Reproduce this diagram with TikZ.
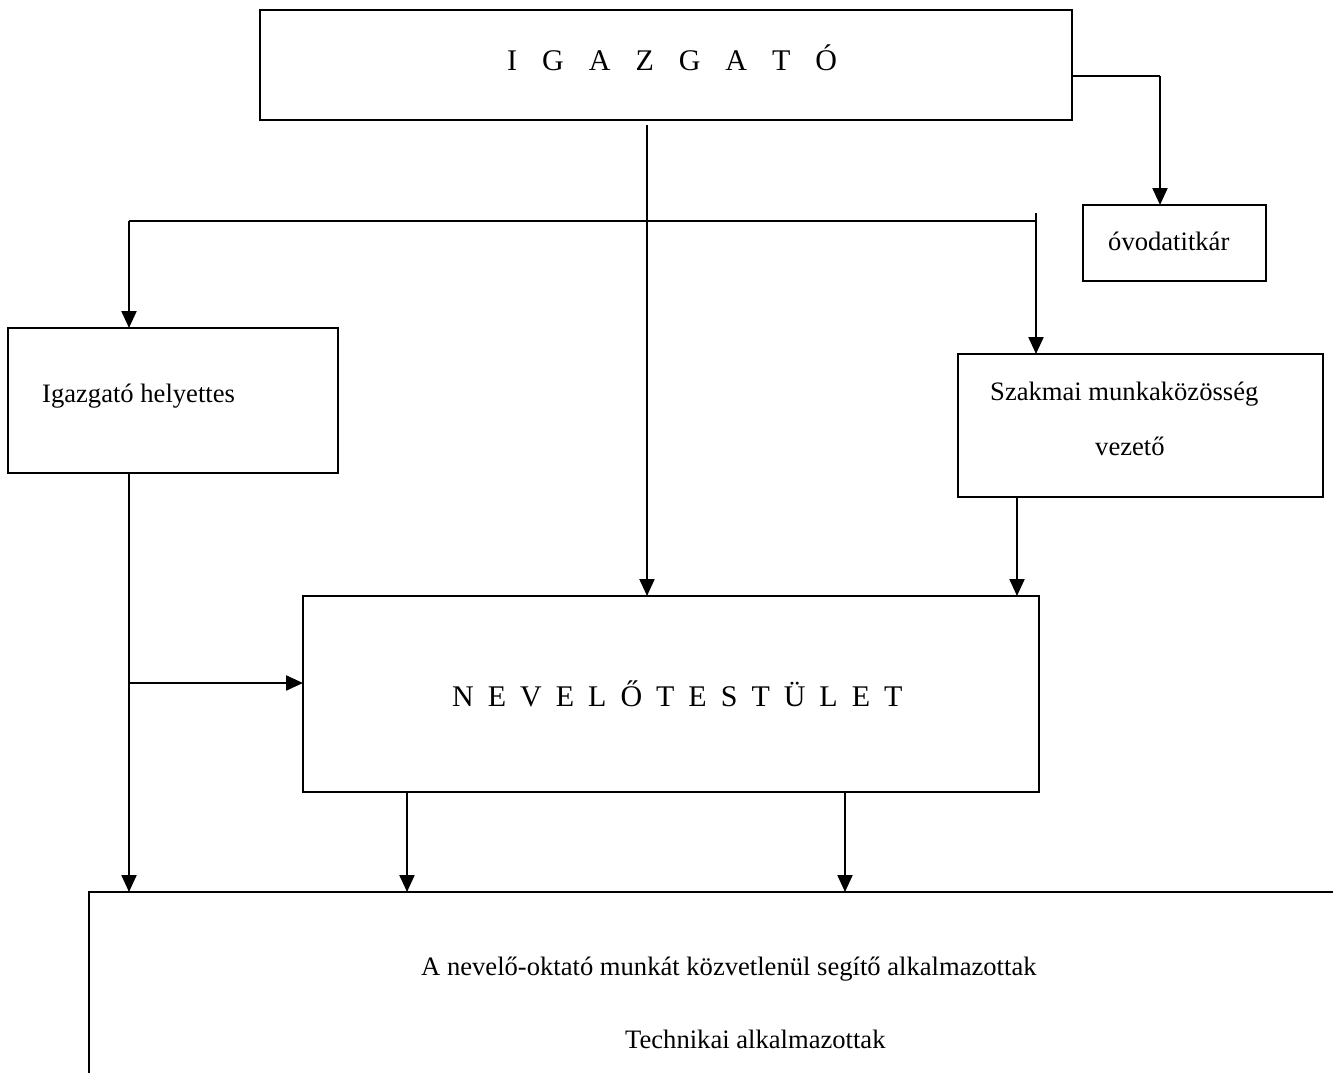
\documentclass[tikz,border=0pt]{standalone}
\usepackage{fontspec}
\setmainfont{Liberation Serif}
\usetikzlibrary{arrows.meta}
\begin{document}
\begin{tikzpicture}[x=1pt,y=-1pt,
  box/.style={draw, line width=2.6pt, inner sep=0pt, outer sep=0pt, rectangle},
  conn/.style={line width=2.2pt, -{Triangle[width=15pt,length=17pt]}},
  thinline/.style={line width=1.2pt},
  txt/.style={font=\fontsize{26.6}{30}\selectfont, inner sep=0pt, anchor=base west},
  titletxt/.style={font=\fontsize{30}{34}\selectfont, inner sep=0pt, anchor=base west}]
\useasboundingbox (0,0) rectangle (1333,1072);
\clip (0,0) rectangle (1333,1072);
% boxes
\node[box, minimum width=812pt, minimum height=110pt] (top) at (666,65) {};
\node[box, minimum width=183pt, minimum height=76pt] (ovoda) at (1174.5,243) {};
\node[box, minimum width=330pt, minimum height=145pt] (help) at (173,400.5) {};
\node[box, minimum width=365pt, minimum height=143pt] (szak) at (1140.5,425.5) {};
\node[box, minimum width=736pt, minimum height=196pt] (nev) at (671,694) {};
\node[box, minimum width=1300pt, minimum height=300pt, anchor=north west] (staff) at (89,892) {};
% texts
\node[titletxt] (tTop) at (507,70) {\spaceskip=25pt\relax I G A Z G A T Ó};
\node[titletxt] (tNev) at (452,706) {\spaceskip=14pt\relax N E V E L Ő T E S T Ü L E T};
\node[txt] (tOv) at (1108,250) {óvodatitkár};
\node[txt] (tHel) at (42,402) {Igazgató helyettes};
\node[txt] (tSz1) at (990,400) {Szakmai munkaközösség};
\node[txt] (tSz2) at (1095,455) {vezető};
\node[txt] (tSt1) at (421,975) {A nevelő-oktató munkát közvetlenül segítő alkalmazottak};
\node[txt] (tSt2) at (625,1048) {Technikai alkalmazottak};
% connectors
\coordinate (a1) at (1160,76);
\draw[thinline] (top.east |- a1) -- (a1);
\draw[conn] (a1) -- (ovoda.north -| a1);
\coordinate (b1) at (129,221);
\coordinate (b2) at (1036,221);
\coordinate (b3) at (1036,213);
\draw[thinline] (b1) -- (b2);
\draw[conn] (b1) -- (help.north -| b1);
\draw[conn] (b3) -- (szak.north -| b3);
\coordinate (c1) at (647,125);
\draw[conn] (c1) -- (nev.north -| c1);
\coordinate (d1) at (1017,497);
\draw[conn] (szak.south -| d1) -- (nev.north -| d1);
\coordinate (e1) at (129,473);
\draw[conn] (help.south -| e1) -- (staff.north -| e1);
\coordinate (e2) at (129,683);
\draw[conn] (e2) -- (nev.west |- e2);
\coordinate (f1) at (407,792);
\coordinate (f2) at (845,792);
\draw[conn] (nev.south -| f1) -- (staff.north -| f1);
\draw[conn] (nev.south -| f2) -- (staff.north -| f2);
\end{tikzpicture}
\end{document}
